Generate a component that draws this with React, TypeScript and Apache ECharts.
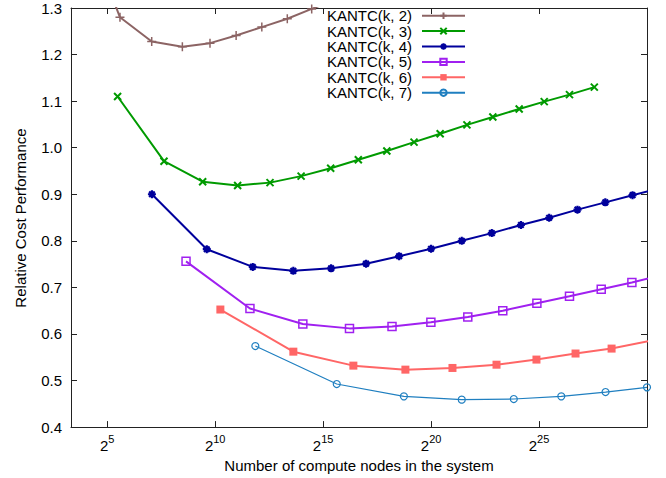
import React, { useEffect, useRef } from "react";
import * as echarts from "echarts";

// x values are log2(number of compute nodes)
const seriesNames = ["KANTC(k, 2)", "KANTC(k, 3)", "KANTC(k, 4)", "KANTC(k, 5)", "KANTC(k, 6)", "KANTC(k, 7)"];

const k2X = [4.1, 5.59, 7.06, 8.48, 9.76, 10.97, 12.16, 13.34, 14.47, 15.55];
const k2Y = [1.46, 1.28, 1.228, 1.217, 1.2245, 1.241, 1.259, 1.277, 1.298, 1.318];

const k3X = [5.48, 7.63, 9.42, 11.04, 12.54, 13.98, 15.35, 16.63, 17.95, 19.21, 20.42, 21.66, 22.86, 24.08, 25.24, 26.41, 27.56];
const k3Y = [1.11, 0.971, 0.927, 0.919, 0.925, 0.939, 0.956, 0.974, 0.993, 1.012, 1.03, 1.049, 1.066, 1.083, 1.099, 1.114, 1.13];

const k4X = [7.07, 9.61, 11.74, 13.62, 15.37, 16.99, 18.52, 20.0, 21.42, 22.81, 24.16, 25.47, 26.78, 28.07, 29.33, 30.6];
const k4Y = [0.9, 0.782, 0.744, 0.7355, 0.741, 0.751, 0.767, 0.783, 0.8, 0.8166, 0.834, 0.8495, 0.867, 0.8826, 0.898, 0.913];

const k5X = [8.65, 11.61, 14.06, 16.22, 18.19, 19.99, 21.7, 23.32, 24.9, 26.41, 27.88, 29.3, 30.7];
const k5Y = [0.756, 0.6546, 0.6215, 0.612, 0.616, 0.625, 0.6366, 0.65, 0.666, 0.681, 0.696, 0.7105, 0.727];

const k6X = [10.24, 13.62, 16.4, 18.81, 20.99, 23.03, 24.88, 26.69, 28.36, 30.1];
const k6Y = [0.6525, 0.562, 0.532, 0.5234, 0.527, 0.534, 0.545, 0.558, 0.5686, 0.585];

const k7X = [11.86, 15.63, 18.74, 21.42, 23.83, 26.03, 28.08, 30.0];
const k7Y = [0.574, 0.4925, 0.466, 0.459, 0.4603, 0.466, 0.4753, 0.4854];

const xTickExponents = [5, 10, 15, 20, 25];
const yTicks = [0.4, 0.5, 0.6, 0.7, 0.8, 0.9, 1.0, 1.1, 1.2, 1.3];

const FONT = "'Liberation Sans', Arial, Helvetica, sans-serif";

const pairs = (xs: number[], ys: number[]) => xs.map((x, i) => [x, ys[i]]);

const PLUS = "path://M0,5L10,5M5,0L5,10";
const CROSS = "path://M0,0L10,10M10,0L0,10";
const STAR = "path://M0,5L10,5M5,0L5,10M1.5,1.5L8.5,8.5M8.5,1.5L1.5,8.5";
const SQUARE = "path://M0,0L10,0L10,10L0,10Z";

export default function App() {
  const ref = useRef<HTMLDivElement>(null);
  useEffect(() => {
    if (!ref.current) return;
    const chart = echarts.init(ref.current, undefined, { renderer: "svg" });
    const xMin = Math.log2(10);
    const xMax = 30;
    const yMin = yTicks[0];
    const yMax = yTicks[yTicks.length - 1];

    const specs = [
      { name: seriesNames[0], data: pairs(k2X, k2Y), color: "#8c6464", width: 2, symbol: PLUS, size: 9, fill: "rgba(0,0,0,0)", bw: 1.5 },
      { name: seriesNames[1], data: pairs(k3X, k3Y), color: "#009a00", width: 2, symbol: CROSS, size: 7, fill: "rgba(0,0,0,0)", bw: 2 },
      { name: seriesNames[2], data: pairs(k4X, k4Y), color: "#00009c", width: 2, symbol: STAR, size: 8, fill: "rgba(0,0,0,0)", bw: 2.2 },
      { name: seriesNames[3], data: pairs(k5X, k5Y), color: "#a020f0", width: 2, symbol: SQUARE, size: 8, fill: "rgba(0,0,0,0)", bw: 1.5 },
      { name: seriesNames[4], data: pairs(k6X, k6Y), color: "#ff6666", width: 2, symbol: "rect", size: 8, fill: "#ff6666", bw: 0 },
      { name: seriesNames[5], data: pairs(k7X, k7Y), color: "#1f7fc0", width: 1.2, symbol: "circle", size: 7, fill: "rgba(0,0,0,0)", bw: 1.2 },
    ];

    const axisLine = { show: true, lineStyle: { color: "#222", width: 1 } };

    chart.setOption({
      animation: false,
      backgroundColor: "#fff",
      textStyle: { fontFamily: FONT },
      grid: { left: 71, right: 19, top: 8, bottom: 50, containLabel: false },
      legend: {
        orient: "vertical",
        right: 200,
        top: 8,
        padding: 0,
        align: "right",
        itemWidth: 43,
        itemHeight: 8,
        itemGap: 0,
        textStyle: { fontSize: 15, lineHeight: 15.4, color: "#000", fontFamily: FONT, padding: [0, 5, 0, 0] },
        data: seriesNames,
      },
      xAxis: [
        {
          type: "value",
          min: xMin,
          max: xMax,
          axisLine,
          splitLine: { show: false },
          axisTick: { show: true, inside: true, length: 6, customValues: xTickExponents, lineStyle: { color: "#222" } },
          axisLabel: {
            show: true,
            customValues: xTickExponents,
            margin: 6,
            color: "#000",
            formatter: (v: number) => `{b|2}{s|${v}}`,
            rich: {
              b: { fontSize: 15, fontFamily: FONT, color: "#000", lineHeight: 20, verticalAlign: "bottom" },
              s: { fontSize: 11, fontFamily: FONT, color: "#000", lineHeight: 11, verticalAlign: "top" },
            },
          },
          name: "Number of compute nodes in the system",
          nameLocation: "middle",
          nameGap: 30,
          nameTextStyle: { fontSize: 15, color: "#000", fontFamily: FONT },
        },
        {
          type: "value",
          position: "top",
          min: xMin,
          max: xMax,
          axisLine,
          splitLine: { show: false },
          axisTick: { show: true, inside: true, length: 6, customValues: xTickExponents, lineStyle: { color: "#222" } },
          axisLabel: { show: false },
        },
      ],
      yAxis: [
        {
          type: "value",
          min: yMin,
          max: yMax,
          interval: 0.1,
          axisLine,
          splitLine: { show: false },
          axisTick: { show: true, inside: true, length: 6, lineStyle: { color: "#222" } },
          axisLabel: {
            margin: 9,
            fontSize: 15,
            color: "#000",
            fontFamily: FONT,
            formatter: (v: number) => v.toFixed(1),
          },
        },
        {
          type: "value",
          position: "right",
          min: yMin,
          max: yMax,
          interval: 0.1,
          axisLine,
          splitLine: { show: false },
          axisTick: { show: true, inside: true, length: 6, lineStyle: { color: "#222" } },
          axisLabel: { show: false },
        },
      ],
      graphic: [
        {
          type: "text",
          x: 20,
          y: 218,
          rotation: Math.PI / 2,
          style: {
            text: "Relative Cost Performance",
            font: `15px ${FONT}`,
            fill: "#000",
            textAlign: "center",
            textVerticalAlign: "middle",
          },
        },
      ],
      series: specs.map((s) => ({
        name: s.name,
        type: "line",
        xAxisIndex: 0,
        yAxisIndex: 0,
        data: s.data,
        clip: true,
        showSymbol: true,
        symbol: s.symbol,
        symbolSize: s.size,
        lineStyle: { color: s.color, width: s.width },
        itemStyle: { color: s.fill, borderColor: s.color, borderWidth: s.bw },
        emphasis: { disabled: true },
      })),
    });
    return () => chart.dispose();
  }, []);
  return <div ref={ref} style={{ position: "fixed", left: 0, top: 0, width: 666, height: 478 }} />;
}
